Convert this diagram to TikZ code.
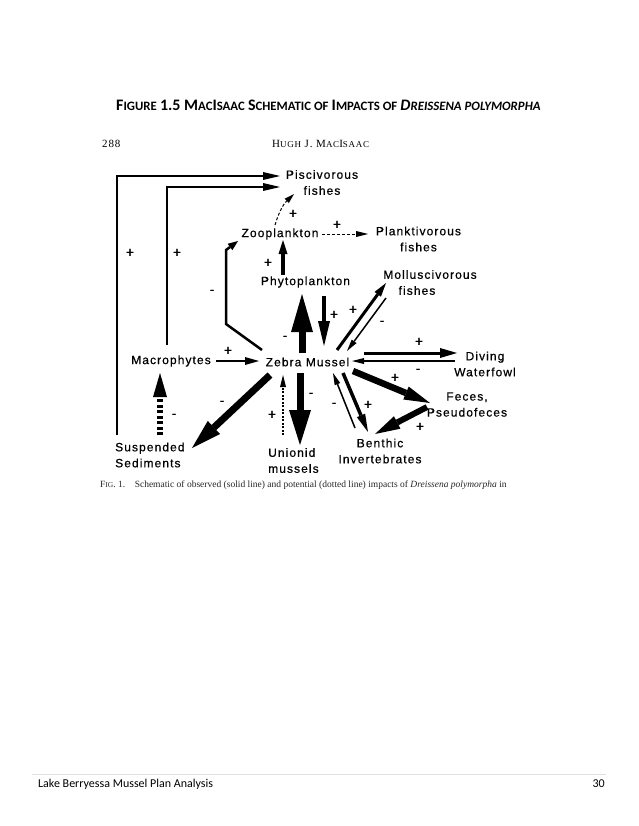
\documentclass[tikz,border=0pt]{standalone}
\usepackage{fontspec}
\setmainfont{Liberation Serif}
\newfontfamily\diagfont[LetterSpace=9, FakeBold=0.5]{Liberation Sans}
\newfontfamily\titlefont{Carlito}
\newfontfamily\headfont[LetterSpace=8]{Liberation Serif}
\usetikzlibrary{arrows.meta, calc}

\newcommand{\bigc}[1]{{\fontsize{16}{19}\selectfont #1}}
\newcommand{\smallc}[1]{{\fontsize{12.8}{15}\selectfont #1}}
\newcommand{\hsc}[1]{{\fontsize{9}{11}\selectfont #1}}

\begin{document}
\begin{tikzpicture}[x=1pt, y=-1pt,
    lbl/.style={font=\diagfont\fontsize{12}{16}\selectfont, inner sep=0pt, align=center},
    sign/.style={font=\diagfont\fontsize{14}{14}\selectfont, inner sep=0pt},
    link/.style={draw=black, line join=miter, line width=#1},
    link/.default=2pt,
    head/.style 2 args={-{Triangle[length=#1, width=#2, line width=0pt]}},
    dotlink/.style={dash pattern=on 3pt off 2pt},
    pagetext/.style={anchor=base west, inner sep=0pt}]

  \fill[white] (0,0) rectangle (638,826);
  \useasboundingbox (0,0) rectangle (638,826);

  % page header and caption
  \node[pagetext, font=\titlefont\bfseries\fontsize{14}{16}\selectfont] (title) at (116,111)
    {\bigc{F}\smallc{IGURE} \bigc{1.5 M}\smallc{AC}\bigc{I}\smallc{SAAC} \bigc{S}\smallc{CHEMATIC OF} \bigc{I}\smallc{MPACTS OF} \itshape\bigc{D}\smallc{REISSENA POLYMORPHA}};
  \node[pagetext, font=\headfont\fontsize{11}{12}\selectfont] (pageno) at (102,148) {288};
  \node[pagetext, font=\headfont\fontsize{11}{12}\selectfont] (author) at (272,148)
    {H\hsc{UGH} J. M\hsc{AC}I\hsc{SAAC}};

  % the schematic
  \node[lbl] (pisc)    at (322,182.5) {Piscivorous\\fishes};
  \node[lbl] (zoo)     at (280,234)   {Zooplankton};
  \node[lbl] (plank)   at (418.5,239) {Planktivorous\\fishes};
  \node[lbl] (phyto)   at (305.5,282) {Phytoplankton};
  \node[lbl] (mollu)   at (430,282.5) {Molluscivorous\\fishes\hspace*{26pt}};
  \node[lbl] (macro)   at (171,361)   {Macrophytes};
  \node[lbl] (zebra)   at (307.5,362) {Zebra Mussel};
  \node[lbl] (diving)  at (485,364)   {Diving\\Waterfowl};
  \node[lbl] (feces)   at (467,404.5) {Feces,\\Pseudofeces};
  \node[lbl] (benthic) at (380,451)   {Benthic\\Invertebrates};
  \node[lbl, align=left, anchor=west] (unionid) at (268,460.5) {Unionid\\mussels};
  \node[lbl, align=left, anchor=west] (susp)    at (115,455)   {Suspended\\Sediments};

  % long loops to the piscivores
  \draw[link=2.5pt, head={17pt}{8pt}] ($(susp.west)+(2,-20)$) |- ($(pisc)+(-42,-6.5)$);
  \draw[link=2.5pt, head={17pt}{8pt}] ($(macro)+(-4,-16)$) |- ($(pisc)+(-42,4.5)$);
  \draw[link=1pt, dotlink, head={10pt}{6pt}] ($(zoo)+(-5,-9)$) to[bend left=15] ($(pisc)+(-28,11.5)$);
  \draw[link=1pt, dotlink, head={12pt}{6pt}] ($(zoo)+(42,0)$) -- ($(plank)+(-50.5,-5)$);
  \draw[link=2.5pt, head={10pt}{8pt}] ($(zebra)+(-45.5,-12)$) -- ++(-36,-26) -- ++(0,-74) -- ($(zoo)+(-42,7)$);

  % plankton
  \draw[link=4pt, head={14pt}{9pt}] ($(phyto)+(-22.5,-7)$) -- ($(zoo)+(3,6)$);
  \draw[link=7pt, head={38pt}{22pt}] ($(zebra)+(-5.5,-9)$) -- ($(phyto)+(-3.5,12)$);
  \draw[link=3.5pt, head={25pt}{12pt}] ($(phyto)+(18.5,14)$) -- ($(zebra)+(16.5,-16)$);

  % fishes and birds
  \draw[link=3pt, head={14pt}{8pt}] ($(zebra)+(29.5,-12)$) -- ($(mollu)+(-44,0.5)$);
  \draw[link=1.5pt, head={12pt}{6pt}] ($(mollu)+(-44,15.5)$) -- ($(zebra)+(39.5,-11)$);
  \draw[link=2pt, head={14pt}{8pt}] ($(macro)+(45,0)$) -- ($(zebra)+(-48.5,-1)$);
  \draw[link=3pt, head={17pt}{10pt}] ($(zebra)+(56.5,-9)$) -- ($(diving)+(-28,-11)$);
  \draw[link=1.8pt, head={12pt}{6pt}] ($(diving)+(-30,-3)$) -- ($(zebra)+(44.5,-1)$);

  % benthos
  \draw[link=6.5pt, head={26pt}{14pt}] ($(zebra)+(45.5,9)$) -- ($(feces)+(-37,-1.5)$);
  \draw[link=6pt, head={25pt}{14pt}] ($(feces)+(-40,2.5)$) -- ($(benthic)+(-5,-17)$);
  \draw[link=3.5pt, head={18pt}{9pt}] ($(zebra)+(35.5,11)$) -- ($(benthic)+(-12,-19)$);
  \draw[link=1.5pt, head={12pt}{6pt}] ($(benthic)+(-25,-23)$) -- ($(zebra)+(25.5,11)$);
  \draw[link=7pt, head={35pt}{22pt}] ($(zebra)+(-7.5,11)$) -- ($(unionid.west)+(32,-15.5)$);
  \draw[link=1.2pt, dash pattern=on 2pt off 1.5pt, head={12pt}{6pt}] ($(unionid.west)+(15,-25.5)$) -- ($(zebra)+(-24.5,13)$);
  \draw[link=7pt, head={30pt}{18pt}] ($(zebra)+(-37.5,13)$) -- ($(susp.west)+(77,-7)$);
  \draw[link=6pt, dash pattern=on 3pt off 2.5pt, head={24pt}{14pt}] ($(susp.west)+(45,-20)$) -- ($(macro)+(-11,12)$);

  \foreach \x/\y/\s [count=\i] in {130/253/+, 177/253/+, 293/214/+, 337/225/+, 212/292/-,
      268/263/+, 285/338/-, 334/315/+, 353/310/+, 382/323/-, 228/351/+, 419/342/+, 418/371/-,
      395/378/+, 420/427/+, 368/405/+, 334/405/-, 311/395/-, 272/415/+, 222/403/-, 174/416/-} {
    \node[sign] (sg\i) at (\x,\y) {\s};
  }

  \node[pagetext, font=\fontsize{9.5}{11}\selectfont, text=black!85] (caption) at (100,487)
    {F{\fontsize{7.5}{9}\selectfont IG}. 1.\quad Schematic of observed (solid line) and potential (dotted line) impacts of \textit{Dreissena polymorpha} in};

  % footer
  \coordinate (rulel) at (32,774);
  \coordinate (ruler) at (606,774);
  \draw[gray!25, line width=0.8pt] (rulel) -- (ruler);
  \node[pagetext, font=\titlefont\fontsize{12}{14}\selectfont] (foot) at (38,787) {Lake Berryessa Mussel Plan Analysis};
  \node[pagetext, anchor=base east, font=\titlefont\fontsize{12}{14}\selectfont] (pagenum) at (605,787) {30};
\end{tikzpicture}
\end{document}
